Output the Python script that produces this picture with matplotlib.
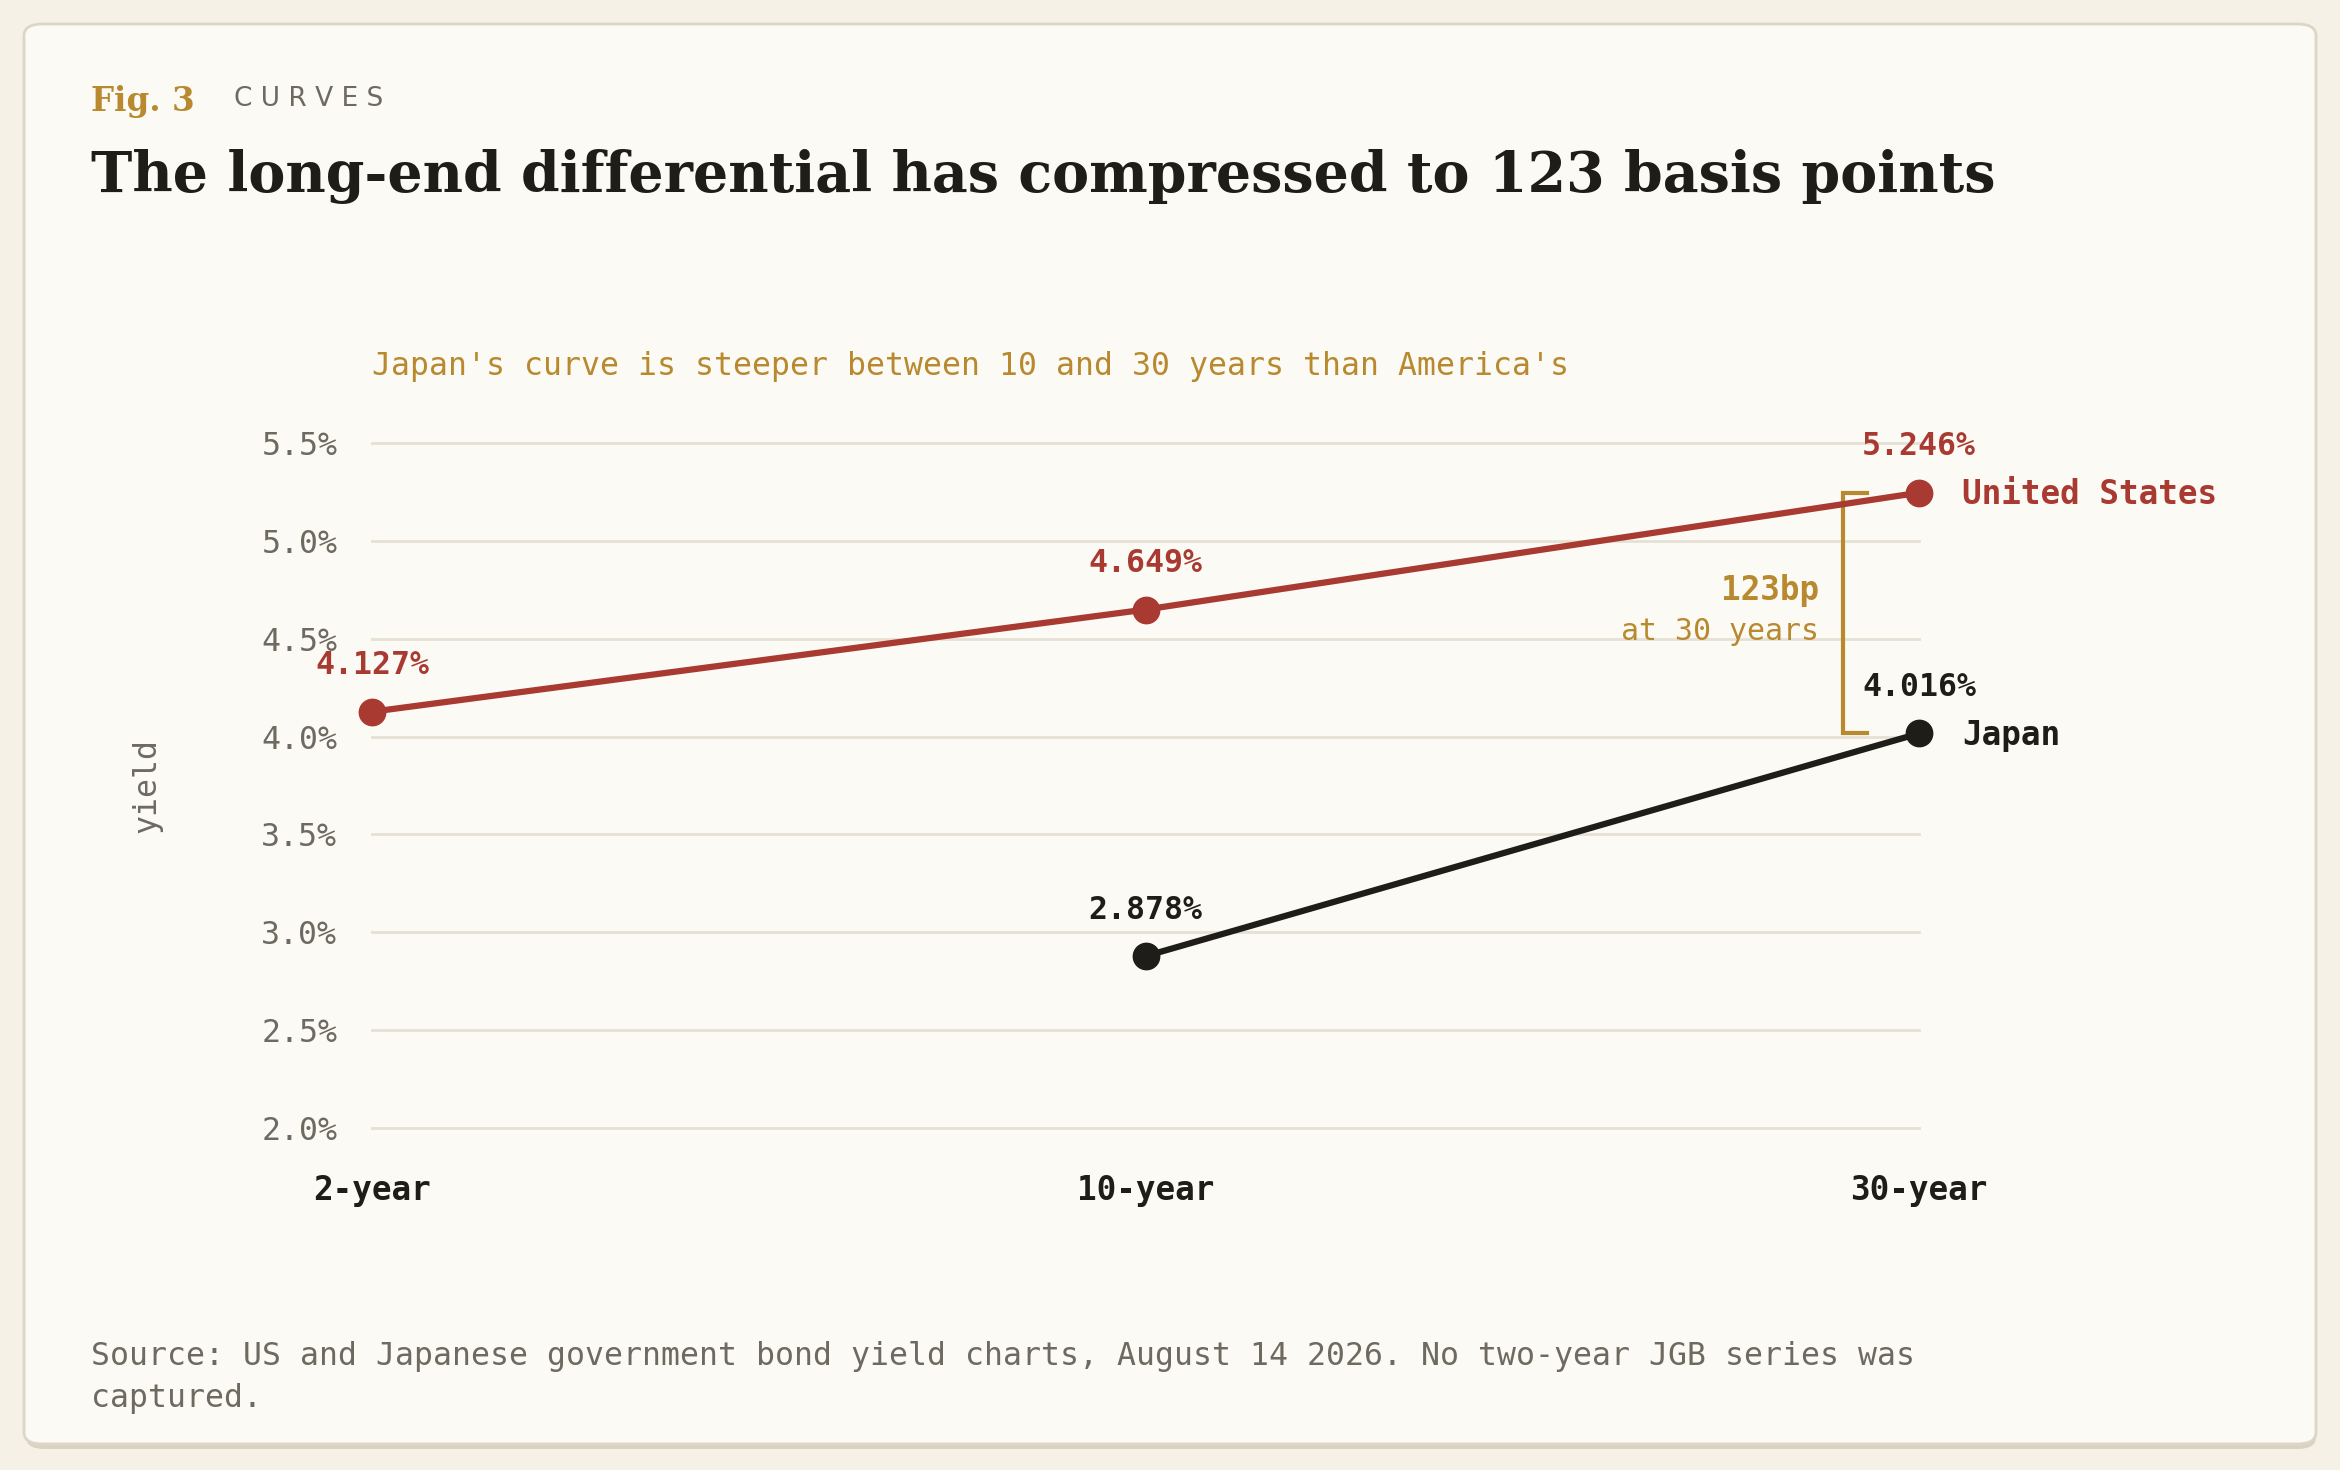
import matplotlib
matplotlib.use("Agg")
import matplotlib.pyplot as plt
from matplotlib.patches import FancyBboxPatch

# data
maturities = ["2-year", "10-year", "30-year"]
us_yields = [4.127, 4.649, 5.246]
jp_maturities = ["10-year", "30-year"]
jp_yields = [2.878, 4.016]
y_ticks = [2.0, 2.5, 3.0, 3.5, 4.0, 4.5, 5.0, 5.5]

RED = "#a83a32"
INK = "#1f1d1a"
GOLD = "#b8892f"
GRAY = "#6e6a5f"
GRID = "#e6e1d4"
PAGE = "#f5f1e7"
CARD = "#fbfaf5"
MONO = "DejaVu Sans Mono"
MS = 22.7

W, H = 2340, 1470
fig = plt.figure(figsize=(W / 100, H / 100), dpi=100)
fig.patch.set_facecolor(PAGE)

def fx(px):
    return px / W

def fy(py):
    return 1 - py / H

# card
shadow = FancyBboxPatch((fx(26), fy(1449)), fx(2290), fy(28) - fy(1449),
                        boxstyle="round,pad=0,rounding_size=0.008",
                        transform=fig.transFigure, facecolor="#d9d3c4",
                        edgecolor="none", zorder=-2)
card = FancyBboxPatch((fx(24), fy(1444)), fx(2292), fy(24) - fy(1444),
                      boxstyle="round,pad=0,rounding_size=0.008",
                      transform=fig.transFigure, facecolor=CARD,
                      edgecolor="#dcd6c6", linewidth=2, zorder=-1)
fig.patches.extend([shadow, card])

# header
fig.text(fx(91), fy(101), "Fig. 3", family="DejaVu Serif", weight="bold",
         fontsize=23.5, color=GOLD, va="center", ha="left")
fig.text(fx(234), fy(99), "C U R V E S", family="DejaVu Sans", fontsize=19,
         color=GRAY, va="center", ha="left")
fig.text(fx(91), fy(176), "The long-end differential has compressed to 123 basis points",
         family="DejaVu Serif", weight="bold", fontsize=40, color=INK,
         va="center", ha="left")
fig.text(fx(372), fy(367), "Japan's curve is steeper between 10 and 30 years than America's",
         family=MONO, fontsize=MS, color=GOLD, va="center", ha="left")

# axes
ax = fig.add_axes([fx(372), fy(1128), fx(1919) - fx(372), fy(443) - fy(1128)])
ax.set_facecolor("none")
ax.set_xlim(0, 2)
ax.set_ylim(2.0, 5.5)
for s in ax.spines.values():
    s.set_visible(False)
ax.set_yticks(y_ticks)
ax.set_yticklabels([f"{v:.1f}%" for v in y_ticks], family=MONO, fontsize=MS, color=GRAY)
ax.set_xticks(range(len(maturities)))
ax.set_xticklabels(maturities, family=MONO, fontsize=23.5, weight="bold", color=INK)
ax.tick_params(axis="both", length=0)
ax.tick_params(axis="y", pad=25)
ax.tick_params(axis="x", pad=33)
ax.grid(axis="y", color=GRID, linewidth=2)
for gl in ax.yaxis.get_gridlines():
    gl.set_clip_on(False)
ax.set_axisbelow(True)
ax.set_ylabel("yield", family=MONO, fontsize=MS, color=GRAY, labelpad=71)

xi = {m: i for i, m in enumerate(maturities)}
us_x = [xi[m] for m in maturities]
jp_x = [xi[m] for m in jp_maturities]

ax.plot(us_x, us_yields, color=RED, linewidth=4.5, marker="o", markersize=19,
        clip_on=False, zorder=3)
ax.plot(jp_x, jp_yields, color=INK, linewidth=4.5, marker="o", markersize=19,
        clip_on=False, zorder=3)

for x, y in zip(us_x, us_yields):
    ax.annotate(f"{y:.3f}%", (x, y), xytext=(0, 22), textcoords="offset points",
                ha="center", va="bottom", family=MONO, fontsize=MS,
                weight="bold", color=RED, annotation_clip=False)
for x, y in zip(jp_x, jp_yields):
    ax.annotate(f"{y:.3f}%", (x, y), xytext=(0, 22), textcoords="offset points",
                ha="center", va="bottom", family=MONO, fontsize=MS,
                weight="bold", color=INK, annotation_clip=False)

ax.annotate("United States", (us_x[-1], us_yields[-1]), xytext=(31, -1.5),
            textcoords="offset points", ha="left", va="center", family=MONO,
            fontsize=23.5, weight="bold", color=RED, annotation_clip=False)
ax.annotate("Japan", (jp_x[-1], jp_yields[-1]), xytext=(31, -1.5),
            textcoords="offset points", ha="left", va="center", family=MONO,
            fontsize=23.5, weight="bold", color=INK, annotation_clip=False)

# spread bracket
bx, tx = 1.902, 1.933
ax.plot([tx, bx, bx, tx], [us_yields[-1], us_yields[-1], jp_yields[-1], jp_yields[-1]],
        color=GOLD, linewidth=3, solid_joinstyle="miter", zorder=2, clip_on=False)
spread = round((us_yields[-1] - jp_yields[-1]) * 100)
ax.text(1.871, 4.745, f"{spread}bp", ha="right", va="center", family=MONO,
        fontsize=23.5, weight="bold", color=GOLD)
ax.text(1.871, 4.539, "at 30 years", ha="right", va="center", family=MONO,
        fontsize=21.5, color=GOLD)

# source
fig.text(fx(91), fy(1357), "Source: US and Japanese government bond yield charts, August 14 2026. No two-year JGB series was",
         family=MONO, fontsize=MS, color=GRAY, va="center", ha="left")
fig.text(fx(91), fy(1399), "captured.", family=MONO, fontsize=MS, color=GRAY,
         va="center", ha="left")

fig.savefig("out.png", dpi=100, facecolor=PAGE)
